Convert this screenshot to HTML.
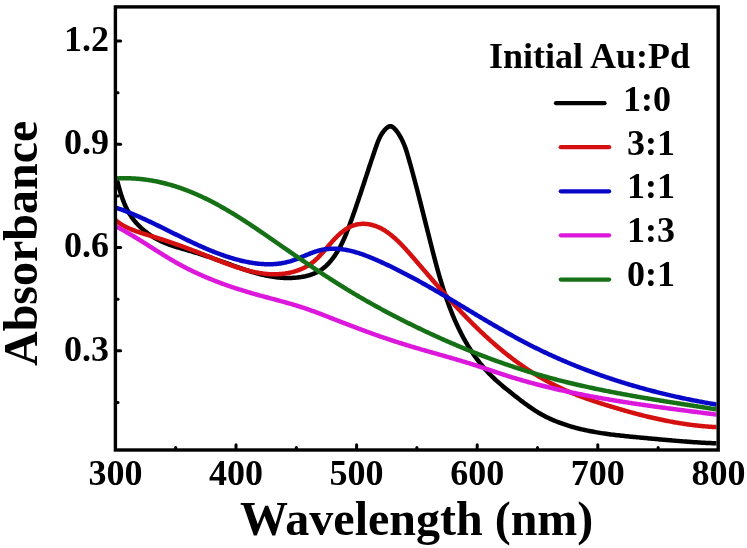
<!DOCTYPE html>
<html><head><meta charset="utf-8"><style>
html,body{margin:0;padding:0;background:#fff;}
body{width:747px;height:548px;overflow:hidden;}
svg{display:block;filter:blur(0.35px);}
text{font-family:"Liberation Serif",serif;font-weight:bold;fill:#000;}
.tk{font-size:36px;}
.lg{font-size:36px;}
.ttl{font-size:36px;}
.ax{font-size:48px;}
</style></head><body>
<svg width="747" height="548" viewBox="0 0 747 548">
<rect width="747" height="548" fill="#fff"/>
<defs><clipPath id="pc"><rect x="117" y="8.6" width="599.5" height="439.7"/></clipPath></defs>
<g fill="none" stroke-width="4.5" stroke-linejoin="round" stroke-linecap="round" clip-path="url(#pc)">
<path d="M116.62,178.49 L117.00,179.97 L117.38,181.45 L117.76,182.93 L118.16,184.42 L118.56,185.91 L118.97,187.40 L119.39,188.89 L119.82,190.38 L120.26,191.87 L120.72,193.35 L121.19,194.84 L121.68,196.32 L122.18,197.79 L122.70,199.25 L123.25,200.71 L123.81,202.15 L124.39,203.59 L125.00,205.01 L125.63,206.43 L126.29,207.82 L126.98,209.21 L127.69,210.57 L128.43,211.92 L129.20,213.26 L130.00,214.57 L130.84,215.86 L131.70,217.13 L132.60,218.38 L133.53,219.61 L134.49,220.82 L135.48,222.01 L136.49,223.17 L137.53,224.31 L138.60,225.43 L139.70,226.52 L140.82,227.59 L141.96,228.64 L143.13,229.66 L144.32,230.66 L145.52,231.64 L146.75,232.59 L148.00,233.52 L149.27,234.42 L150.56,235.29 L151.86,236.14 L153.18,236.97 L154.51,237.76 L155.86,238.53 L157.22,239.28 L158.60,239.99 L159.99,240.68 L161.38,241.35 L162.79,241.98 L164.21,242.59 L165.64,243.18 L167.07,243.75 L168.52,244.30 L169.97,244.83 L171.42,245.34 L172.89,245.83 L174.36,246.32 L175.83,246.79 L177.31,247.25 L178.79,247.70 L180.27,248.14 L181.76,248.58 L183.25,249.01 L184.73,249.44 L186.22,249.86 L187.71,250.29 L189.20,250.72 L190.69,251.15 L192.17,251.58 L193.65,252.03 L195.13,252.47 L196.60,252.93 L198.08,253.39 L199.55,253.85 L201.02,254.32 L202.48,254.80 L203.94,255.28 L205.41,255.76 L206.87,256.25 L208.33,256.74 L209.78,257.24 L211.24,257.74 L212.70,258.25 L214.15,258.76 L215.60,259.27 L217.06,259.78 L218.51,260.30 L219.97,260.81 L221.42,261.33 L222.87,261.85 L224.33,262.38 L225.78,262.90 L227.24,263.43 L228.70,263.95 L230.15,264.48 L231.61,265.00 L233.07,265.53 L234.54,266.05 L236.00,266.58 L237.47,267.10 L238.93,267.61 L240.40,268.13 L241.87,268.64 L243.35,269.14 L244.82,269.63 L246.30,270.12 L247.77,270.61 L249.25,271.08 L250.74,271.54 L252.22,272.00 L253.71,272.44 L255.19,272.87 L256.68,273.29 L258.18,273.70 L259.67,274.09 L261.17,274.47 L262.67,274.83 L264.17,275.17 L265.67,275.50 L267.18,275.81 L268.69,276.11 L270.20,276.38 L271.71,276.63 L273.23,276.87 L274.75,277.08 L276.27,277.27 L277.79,277.44 L279.32,277.59 L280.85,277.71 L282.39,277.82 L283.93,277.89 L285.47,277.95 L287.02,277.98 L288.57,277.98 L290.12,277.96 L291.68,277.92 L293.24,277.85 L294.81,277.75 L296.38,277.62 L297.94,277.46 L299.51,277.27 L301.06,277.05 L302.61,276.79 L304.15,276.50 L305.67,276.18 L307.18,275.81 L308.68,275.41 L310.16,274.97 L311.61,274.49 L313.04,273.96 L314.45,273.39 L315.83,272.78 L317.19,272.12 L318.51,271.41 L319.81,270.65 L321.08,269.84 L322.32,268.98 L323.53,268.06 L324.72,267.09 L325.87,266.07 L327.00,264.99 L328.10,263.87 L329.16,262.72 L330.20,261.54 L331.20,260.34 L332.18,259.12 L333.13,257.89 L334.05,256.64 L334.94,255.37 L335.81,254.09 L336.65,252.79 L337.47,251.48 L338.26,250.15 L339.03,248.82 L339.78,247.47 L340.52,246.11 L341.23,244.73 L341.92,243.35 L342.60,241.96 L343.25,240.56 L343.90,239.15 L344.53,237.73 L345.14,236.30 L345.74,234.87 L346.33,233.44 L346.91,232.00 L347.48,230.55 L348.04,229.10 L348.59,227.65 L349.14,226.20 L349.67,224.74 L350.21,223.28 L350.74,221.82 L351.26,220.37 L351.78,218.91 L352.30,217.45 L352.82,216.00 L353.33,214.54 L353.84,213.08 L354.35,211.63 L354.85,210.17 L355.36,208.72 L355.86,207.26 L356.36,205.81 L356.86,204.35 L357.35,202.90 L357.84,201.44 L358.34,199.98 L358.83,198.53 L359.32,197.07 L359.80,195.61 L360.29,194.16 L360.78,192.70 L361.26,191.24 L361.75,189.78 L362.23,188.32 L362.71,186.86 L363.20,185.40 L363.68,183.94 L364.16,182.48 L364.64,181.01 L365.13,179.55 L365.61,178.08 L366.09,176.61 L366.57,175.15 L367.06,173.68 L367.54,172.21 L368.03,170.73 L368.51,169.26 L369.00,167.78 L369.49,166.31 L369.98,164.83 L370.47,163.35 L370.96,161.87 L371.45,160.39 L371.95,158.90 L372.44,157.42 L372.94,155.93 L373.44,154.44 L373.94,152.95 L374.45,151.45 L374.96,149.95 L375.47,148.46 L375.98,146.96 L376.50,145.46 L377.04,143.97 L377.60,142.49 L378.18,141.03 L378.79,139.59 L379.44,138.17 L380.13,136.78 L380.86,135.42 L381.64,134.10 L382.48,132.81 L383.38,131.58 L384.35,130.38 L385.38,129.25 L386.49,128.17 L387.67,127.22 L388.87,126.53 L390.08,126.21 L391.28,126.34 L392.45,126.86 L393.58,127.70 L394.68,128.76 L395.73,129.97 L396.73,131.24 L397.68,132.54 L398.58,133.85 L399.43,135.19 L400.24,136.54 L401.00,137.91 L401.72,139.30 L402.41,140.70 L403.06,142.11 L403.67,143.54 L404.26,144.98 L404.82,146.43 L405.36,147.89 L405.87,149.36 L406.36,150.83 L406.84,152.31 L407.30,153.80 L407.74,155.29 L408.18,156.78 L408.61,158.28 L409.04,159.78 L409.46,161.27 L409.88,162.77 L410.30,164.26 L410.72,165.76 L411.13,167.26 L411.54,168.75 L411.95,170.25 L412.36,171.74 L412.77,173.24 L413.17,174.73 L413.57,176.23 L413.97,177.73 L414.37,179.22 L414.77,180.72 L415.17,182.21 L415.56,183.71 L415.95,185.20 L416.34,186.70 L416.73,188.19 L417.12,189.69 L417.51,191.18 L417.90,192.68 L418.28,194.17 L418.67,195.67 L419.05,197.16 L419.43,198.66 L419.81,200.15 L420.19,201.65 L420.57,203.14 L420.95,204.64 L421.33,206.13 L421.71,207.63 L422.08,209.12 L422.46,210.62 L422.84,212.12 L423.21,213.61 L423.59,215.11 L423.96,216.60 L424.34,218.10 L424.71,219.60 L425.09,221.09 L425.46,222.59 L425.84,224.09 L426.21,225.58 L426.59,227.08 L426.96,228.58 L427.34,230.08 L427.71,231.57 L428.09,233.07 L428.47,234.57 L428.84,236.07 L429.22,237.57 L429.60,239.06 L429.98,240.56 L430.36,242.06 L430.74,243.56 L431.12,245.06 L431.50,246.56 L431.88,248.06 L432.27,249.56 L432.65,251.06 L433.04,252.56 L433.43,254.07 L433.82,255.57 L434.21,257.07 L434.60,258.57 L435.00,260.07 L435.39,261.57 L435.79,263.07 L436.20,264.56 L436.60,266.06 L437.01,267.56 L437.42,269.06 L437.83,270.55 L438.25,272.05 L438.67,273.54 L439.10,275.03 L439.53,276.52 L439.96,278.01 L440.40,279.50 L440.84,280.99 L441.28,282.47 L441.73,283.96 L442.19,285.44 L442.64,286.92 L443.11,288.40 L443.58,289.87 L444.05,291.35 L444.53,292.82 L445.02,294.29 L445.51,295.76 L446.01,297.22 L446.51,298.69 L447.02,300.15 L447.54,301.61 L448.06,303.06 L448.59,304.51 L449.13,305.96 L449.67,307.41 L450.23,308.85 L450.78,310.29 L451.35,311.73 L451.92,313.16 L452.50,314.59 L453.09,316.02 L453.69,317.44 L454.30,318.86 L454.91,320.28 L455.53,321.69 L456.17,323.10 L456.81,324.51 L457.46,325.91 L458.11,327.30 L458.78,328.70 L459.46,330.08 L460.15,331.47 L460.84,332.85 L461.55,334.22 L462.27,335.59 L462.99,336.96 L463.73,338.32 L464.48,339.67 L465.24,341.02 L466.01,342.37 L466.79,343.70 L467.58,345.03 L468.38,346.36 L469.19,347.68 L470.01,348.99 L470.85,350.29 L471.69,351.59 L472.55,352.87 L473.42,354.15 L474.30,355.43 L475.19,356.69 L476.09,357.94 L477.01,359.19 L477.93,360.42 L478.87,361.65 L479.82,362.87 L480.79,364.07 L481.76,365.27 L482.75,366.45 L483.75,367.63 L484.76,368.79 L485.78,369.95 L486.82,371.09 L487.87,372.22 L488.93,373.34 L490.01,374.44 L491.10,375.53 L492.20,376.62 L493.31,377.69 L494.44,378.74 L495.57,379.79 L496.72,380.83 L497.87,381.86 L499.03,382.89 L500.20,383.90 L501.38,384.91 L502.57,385.91 L503.76,386.90 L504.96,387.89 L506.16,388.87 L507.37,389.85 L508.58,390.82 L509.79,391.79 L511.01,392.76 L512.23,393.72 L513.45,394.69 L514.68,395.65 L515.90,396.61 L517.12,397.57 L518.35,398.52 L519.58,399.47 L520.81,400.42 L522.04,401.36 L523.28,402.29 L524.52,403.22 L525.77,404.14 L527.02,405.05 L528.28,405.95 L529.54,406.84 L530.81,407.72 L532.09,408.59 L533.37,409.45 L534.67,410.29 L535.97,411.12 L537.28,411.93 L538.59,412.73 L539.92,413.50 L541.26,414.27 L542.61,415.01 L543.97,415.74 L545.33,416.45 L546.71,417.14 L548.10,417.81 L549.49,418.47 L550.89,419.12 L552.30,419.74 L553.72,420.35 L555.15,420.95 L556.58,421.53 L558.02,422.10 L559.46,422.65 L560.92,423.18 L562.37,423.71 L563.84,424.22 L565.31,424.71 L566.78,425.19 L568.26,425.66 L569.74,426.11 L571.23,426.56 L572.72,426.99 L574.21,427.40 L575.71,427.81 L577.21,428.20 L578.71,428.59 L580.21,428.96 L581.72,429.32 L583.23,429.67 L584.74,430.00 L586.25,430.33 L587.76,430.65 L589.28,430.96 L590.80,431.26 L592.31,431.55 L593.83,431.83 L595.36,432.10 L596.88,432.37 L598.40,432.62 L599.93,432.87 L601.46,433.11 L602.98,433.35 L604.51,433.58 L606.04,433.80 L607.57,434.01 L609.11,434.22 L610.64,434.42 L612.17,434.62 L613.71,434.81 L615.24,435.00 L616.78,435.18 L618.32,435.35 L619.86,435.53 L621.39,435.70 L622.93,435.86 L624.47,436.03 L626.01,436.18 L627.55,436.34 L629.09,436.50 L630.63,436.65 L632.17,436.80 L633.72,436.94 L635.26,437.09 L636.80,437.24 L638.34,437.38 L639.88,437.53 L641.42,437.67 L642.96,437.81 L644.50,437.96 L646.05,438.10 L647.59,438.25 L649.13,438.39 L650.67,438.53 L652.21,438.68 L653.75,438.82 L655.29,438.97 L656.83,439.11 L658.37,439.25 L659.91,439.39 L661.45,439.53 L662.99,439.67 L664.53,439.81 L666.07,439.95 L667.61,440.08 L669.15,440.22 L670.69,440.35 L672.23,440.49 L673.77,440.62 L675.31,440.75 L676.85,440.88 L678.39,441.00 L679.93,441.13 L681.48,441.25 L683.02,441.37 L684.56,441.49 L686.10,441.61 L687.64,441.72 L689.19,441.83 L690.73,441.94 L692.27,442.05 L693.81,442.15 L695.36,442.25 L696.90,442.35 L698.45,442.45 L699.99,442.54 L701.54,442.63 L703.08,442.72 L704.63,442.80 L706.17,442.88 L707.72,442.96 L709.27,443.03 L710.82,443.10 L712.36,443.17 L713.91,443.23 L715.46,443.29 L717.01,443.34" stroke="#000000"/>
<path d="M115.95,220.57 L116.86,221.28 L117.77,221.96 L118.71,222.62 L119.66,223.26 L120.62,223.89 L121.59,224.49 L122.58,225.07 L123.58,225.64 L124.59,226.19 L125.62,226.72 L126.65,227.24 L127.70,227.74 L128.75,228.23 L129.82,228.70 L130.89,229.16 L131.97,229.61 L133.06,230.05 L134.15,230.47 L135.25,230.89 L136.36,231.29 L137.47,231.69 L138.59,232.08 L139.71,232.46 L140.83,232.83 L141.96,233.20 L143.09,233.56 L144.22,233.92 L145.35,234.27 L146.49,234.62 L147.62,234.97 L148.76,235.31 L149.89,235.66 L151.02,236.00 L152.15,236.34 L153.28,236.69 L154.40,237.03 L155.52,237.38 L156.64,237.73 L157.75,238.08 L158.87,238.43 L159.98,238.78 L161.08,239.14 L162.18,239.49 L163.29,239.85 L164.38,240.21 L165.48,240.57 L166.57,240.94 L167.67,241.30 L168.76,241.67 L169.84,242.04 L170.93,242.41 L172.01,242.78 L173.10,243.16 L174.18,243.54 L175.26,243.91 L176.34,244.30 L177.41,244.68 L178.49,245.06 L179.57,245.45 L180.64,245.84 L181.72,246.22 L182.79,246.62 L183.86,247.01 L184.94,247.41 L186.01,247.80 L187.08,248.20 L188.16,248.60 L189.23,249.01 L190.30,249.41 L191.37,249.82 L192.45,250.23 L193.52,250.64 L194.60,251.05 L195.67,251.46 L196.75,251.88 L197.83,252.30 L198.91,252.72 L199.99,253.14 L201.07,253.57 L202.15,253.99 L203.23,254.42 L204.32,254.85 L205.41,255.29 L206.50,255.72 L207.59,256.16 L208.68,256.60 L209.78,257.03 L210.87,257.47 L211.97,257.91 L213.07,258.35 L214.17,258.79 L215.27,259.23 L216.38,259.67 L217.48,260.11 L218.59,260.55 L219.70,260.98 L220.81,261.42 L221.92,261.85 L223.04,262.28 L224.15,262.71 L225.26,263.13 L226.38,263.55 L227.50,263.97 L228.62,264.38 L229.74,264.79 L230.86,265.19 L231.98,265.59 L233.11,265.98 L234.23,266.37 L235.35,266.75 L236.48,267.13 L237.61,267.50 L238.73,267.87 L239.86,268.22 L240.99,268.57 L242.12,268.92 L243.25,269.25 L244.38,269.58 L245.52,269.90 L246.65,270.21 L247.78,270.51 L248.92,270.80 L250.05,271.08 L251.19,271.35 L252.32,271.62 L253.46,271.87 L254.59,272.11 L255.73,272.34 L256.86,272.56 L258.00,272.77 L259.14,272.96 L260.27,273.15 L261.41,273.32 L262.55,273.48 L263.69,273.62 L264.82,273.75 L265.96,273.87 L267.10,273.98 L268.23,274.07 L269.37,274.14 L270.51,274.20 L271.65,274.25 L272.78,274.28 L273.92,274.30 L275.05,274.29 L276.19,274.28 L277.33,274.24 L278.46,274.19 L279.60,274.12 L280.73,274.04 L281.86,273.94 L283.00,273.81 L284.13,273.67 L285.26,273.52 L286.39,273.34 L287.52,273.14 L288.65,272.93 L289.78,272.69 L290.91,272.43 L292.04,272.16 L293.16,271.86 L294.29,271.54 L295.41,271.21 L296.53,270.85 L297.64,270.47 L298.74,270.06 L299.84,269.64 L300.92,269.20 L302.00,268.73 L303.07,268.24 L304.12,267.73 L305.17,267.20 L306.19,266.64 L307.21,266.07 L308.20,265.47 L309.18,264.85 L310.14,264.20 L311.09,263.54 L312.01,262.85 L312.92,262.14 L313.81,261.42 L314.69,260.67 L315.55,259.91 L316.40,259.13 L317.24,258.34 L318.06,257.53 L318.88,256.71 L319.68,255.88 L320.48,255.04 L321.27,254.18 L322.05,253.32 L322.83,252.45 L323.60,251.58 L324.36,250.69 L325.13,249.80 L325.89,248.91 L326.65,248.01 L327.42,247.12 L328.18,246.22 L328.95,245.32 L329.72,244.42 L330.50,243.52 L331.29,242.62 L332.08,241.73 L332.88,240.84 L333.69,239.96 L334.51,239.08 L335.34,238.21 L336.19,237.35 L337.05,236.51 L337.92,235.67 L338.80,234.85 L339.69,234.04 L340.60,233.25 L341.51,232.49 L342.44,231.74 L343.38,231.02 L344.34,230.32 L345.30,229.65 L346.28,229.00 L347.26,228.39 L348.26,227.81 L349.27,227.26 L350.30,226.75 L351.33,226.28 L352.38,225.85 L353.44,225.45 L354.51,225.10 L355.59,224.80 L356.68,224.54 L357.78,224.32 L358.89,224.14 L360.00,224.01 L361.12,223.91 L362.24,223.86 L363.36,223.84 L364.48,223.86 L365.60,223.92 L366.71,224.01 L367.82,224.14 L368.92,224.31 L370.02,224.50 L371.10,224.73 L372.18,224.99 L373.24,225.28 L374.30,225.60 L375.34,225.95 L376.38,226.33 L377.41,226.73 L378.43,227.17 L379.44,227.63 L380.44,228.11 L381.43,228.62 L382.42,229.15 L383.40,229.71 L384.37,230.29 L385.33,230.89 L386.28,231.51 L387.23,232.16 L388.17,232.82 L389.10,233.50 L390.03,234.20 L390.95,234.92 L391.86,235.65 L392.76,236.40 L393.66,237.17 L394.56,237.95 L395.44,238.75 L396.32,239.55 L397.20,240.37 L398.07,241.20 L398.93,242.05 L399.79,242.90 L400.65,243.76 L401.49,244.63 L402.34,245.51 L403.18,246.40 L404.01,247.29 L404.84,248.19 L405.67,249.10 L406.49,250.01 L407.31,250.92 L408.13,251.83 L408.94,252.75 L409.75,253.67 L410.55,254.59 L411.35,255.51 L412.15,256.43 L412.95,257.35 L413.74,258.26 L414.53,259.18 L415.32,260.09 L416.10,261.00 L416.89,261.90 L417.67,262.81 L418.45,263.71 L419.22,264.62 L420.00,265.52 L420.77,266.41 L421.54,267.31 L422.31,268.20 L423.08,269.10 L423.85,269.99 L424.61,270.88 L425.38,271.76 L426.14,272.65 L426.90,273.53 L427.66,274.41 L428.42,275.30 L429.18,276.17 L429.94,277.05 L430.69,277.93 L431.45,278.80 L432.20,279.68 L432.96,280.55 L433.71,281.42 L434.47,282.29 L435.22,283.16 L435.97,284.02 L436.73,284.89 L437.48,285.75 L438.24,286.62 L438.99,287.48 L439.74,288.34 L440.50,289.20 L441.25,290.06 L442.01,290.91 L442.76,291.77 L443.52,292.62 L444.28,293.48 L445.04,294.33 L445.80,295.18 L446.56,296.04 L447.32,296.89 L448.08,297.74 L448.84,298.59 L449.61,299.43 L450.38,300.28 L451.14,301.13 L451.91,301.97 L452.68,302.82 L453.46,303.66 L454.23,304.51 L455.01,305.35 L455.79,306.20 L456.57,307.04 L457.35,307.88 L458.14,308.72 L458.93,309.56 L459.72,310.40 L460.51,311.24 L461.31,312.08 L462.10,312.92 L462.90,313.76 L463.70,314.59 L464.51,315.43 L465.31,316.26 L466.12,317.10 L466.93,317.93 L467.74,318.76 L468.56,319.59 L469.37,320.42 L470.19,321.25 L471.01,322.07 L471.84,322.90 L472.66,323.72 L473.49,324.54 L474.32,325.36 L475.16,326.18 L475.99,327.00 L476.83,327.81 L477.67,328.63 L478.51,329.44 L479.35,330.25 L480.20,331.06 L481.05,331.86 L481.90,332.67 L482.75,333.47 L483.61,334.27 L484.46,335.07 L485.32,335.86 L486.19,336.66 L487.05,337.45 L487.92,338.24 L488.79,339.03 L489.66,339.81 L490.53,340.59 L491.41,341.37 L492.28,342.15 L493.17,342.92 L494.05,343.69 L494.93,344.46 L495.82,345.23 L496.71,345.99 L497.60,346.75 L498.50,347.51 L499.39,348.27 L500.29,349.02 L501.19,349.77 L502.10,350.51 L503.00,351.26 L503.91,351.99 L504.82,352.73 L505.73,353.46 L506.65,354.19 L507.57,354.92 L508.49,355.64 L509.41,356.36 L510.33,357.08 L511.26,357.79 L512.19,358.50 L513.12,359.20 L514.05,359.90 L514.99,360.60 L515.93,361.29 L516.87,361.98 L517.81,362.67 L518.76,363.35 L519.71,364.03 L520.66,364.70 L521.61,365.37 L522.57,366.04 L523.52,366.70 L524.48,367.36 L525.45,368.01 L526.41,368.66 L527.38,369.30 L528.35,369.94 L529.32,370.58 L530.29,371.21 L531.27,371.84 L532.25,372.46 L533.23,373.08 L534.21,373.69 L535.20,374.30 L536.19,374.91 L537.18,375.51 L538.17,376.10 L539.17,376.69 L540.17,377.28 L541.17,377.86 L542.17,378.44 L543.18,379.01 L544.19,379.58 L545.20,380.15 L546.21,380.71 L547.23,381.26 L548.25,381.81 L549.27,382.36 L550.29,382.90 L551.32,383.44 L552.34,383.97 L553.37,384.50 L554.41,385.02 L555.44,385.53 L556.48,386.05 L557.52,386.56 L558.57,387.06 L559.61,387.56 L560.66,388.05 L561.71,388.54 L562.76,389.02 L563.82,389.50 L564.88,389.98 L565.94,390.44 L567.00,390.91 L568.07,391.37 L569.14,391.82 L570.21,392.27 L571.28,392.72 L572.36,393.16 L573.43,393.60 L574.51,394.03 L575.60,394.46 L576.68,394.89 L577.76,395.31 L578.85,395.72 L579.94,396.14 L581.03,396.55 L582.12,396.95 L583.22,397.35 L584.31,397.75 L585.41,398.15 L586.51,398.54 L587.61,398.93 L588.71,399.32 L589.81,399.70 L590.92,400.08 L592.02,400.46 L593.13,400.83 L594.24,401.20 L595.34,401.57 L596.45,401.94 L597.56,402.30 L598.68,402.66 L599.79,403.02 L600.90,403.38 L602.01,403.73 L603.13,404.09 L604.24,404.44 L605.36,404.79 L606.47,405.13 L607.59,405.48 L608.71,405.82 L609.82,406.17 L610.94,406.51 L612.06,406.85 L613.18,407.18 L614.29,407.52 L615.41,407.85 L616.53,408.19 L617.65,408.52 L618.77,408.85 L619.89,409.18 L621.01,409.50 L622.13,409.83 L623.25,410.15 L624.37,410.47 L625.49,410.79 L626.61,411.11 L627.73,411.42 L628.86,411.73 L629.98,412.05 L631.10,412.35 L632.22,412.66 L633.35,412.97 L634.47,413.27 L635.60,413.57 L636.72,413.87 L637.85,414.16 L638.97,414.46 L640.10,414.75 L641.23,415.03 L642.36,415.32 L643.48,415.61 L644.61,415.89 L645.74,416.17 L646.87,416.44 L648.00,416.72 L649.13,416.99 L650.26,417.26 L651.39,417.52 L652.53,417.78 L653.66,418.04 L654.79,418.30 L655.93,418.56 L657.06,418.81 L658.19,419.06 L659.33,419.30 L660.47,419.55 L661.60,419.79 L662.74,420.02 L663.88,420.26 L665.02,420.49 L666.16,420.72 L667.30,420.94 L668.44,421.16 L669.58,421.38 L670.72,421.60 L671.87,421.81 L673.01,422.02 L674.15,422.22 L675.30,422.43 L676.44,422.62 L677.59,422.82 L678.74,423.01 L679.89,423.20 L681.03,423.38 L682.18,423.56 L683.33,423.74 L684.48,423.91 L685.64,424.08 L686.79,424.25 L687.94,424.41 L689.10,424.57 L690.25,424.73 L691.41,424.88 L692.56,425.02 L693.72,425.17 L694.88,425.31 L696.04,425.44 L697.20,425.57 L698.36,425.70 L699.52,425.82 L700.69,425.94 L701.85,426.05 L703.01,426.16 L704.18,426.27 L705.35,426.37 L706.51,426.47 L707.68,426.56 L708.85,426.65 L710.02,426.74 L711.19,426.82 L712.37,426.89 L713.54,426.96 L714.71,427.03 L715.89,427.09 L717.06,427.15" stroke="#d41010"/>
<path d="M116.05,207.73 L117.05,208.07 L118.05,208.41 L119.05,208.76 L120.05,209.12 L121.05,209.47 L122.05,209.84 L123.04,210.21 L124.04,210.58 L125.03,210.96 L126.03,211.34 L127.02,211.73 L128.01,212.12 L129.00,212.51 L130.00,212.91 L130.99,213.32 L131.98,213.73 L132.97,214.14 L133.96,214.55 L134.94,214.97 L135.93,215.39 L136.92,215.82 L137.91,216.25 L138.89,216.68 L139.88,217.12 L140.86,217.56 L141.85,218.00 L142.83,218.45 L143.82,218.89 L144.80,219.34 L145.78,219.80 L146.77,220.25 L147.75,220.71 L148.73,221.17 L149.71,221.63 L150.70,222.10 L151.68,222.57 L152.66,223.03 L153.64,223.51 L154.62,223.98 L155.60,224.45 L156.58,224.93 L157.56,225.40 L158.54,225.88 L159.52,226.36 L160.50,226.84 L161.48,227.32 L162.47,227.81 L163.45,228.29 L164.43,228.78 L165.41,229.26 L166.39,229.75 L167.37,230.23 L168.35,230.72 L169.33,231.21 L170.31,231.69 L171.29,232.18 L172.27,232.67 L173.25,233.15 L174.23,233.64 L175.21,234.13 L176.20,234.61 L177.18,235.10 L178.16,235.58 L179.14,236.07 L180.12,236.55 L181.11,237.03 L182.09,237.52 L183.08,238.00 L184.06,238.48 L185.04,238.95 L186.03,239.43 L187.01,239.91 L188.00,240.38 L188.99,240.85 L189.97,241.32 L190.96,241.79 L191.95,242.26 L192.94,242.72 L193.93,243.18 L194.92,243.64 L195.91,244.10 L196.90,244.56 L197.89,245.01 L198.88,245.46 L199.87,245.91 L200.87,246.35 L201.86,246.79 L202.86,247.23 L203.85,247.67 L204.85,248.10 L205.85,248.53 L206.84,248.96 L207.84,249.38 L208.84,249.80 L209.84,250.21 L210.84,250.62 L211.85,251.03 L212.85,251.43 L213.85,251.83 L214.86,252.23 L215.87,252.62 L216.87,253.00 L217.88,253.38 L218.89,253.76 L219.90,254.13 L220.91,254.50 L221.92,254.86 L222.94,255.22 L223.95,255.57 L224.97,255.92 L225.99,256.26 L227.00,256.60 L228.02,256.93 L229.04,257.26 L230.07,257.58 L231.09,257.89 L232.11,258.20 L233.14,258.50 L234.17,258.80 L235.19,259.09 L236.22,259.38 L237.25,259.65 L238.29,259.93 L239.32,260.19 L240.36,260.45 L241.39,260.70 L242.43,260.95 L243.47,261.18 L244.51,261.42 L245.55,261.64 L246.60,261.86 L247.64,262.07 L248.69,262.27 L249.74,262.46 L250.79,262.64 L251.84,262.82 L252.89,262.99 L253.94,263.14 L254.99,263.29 L256.05,263.43 L257.10,263.56 L258.16,263.68 L259.22,263.79 L260.28,263.88 L261.33,263.97 L262.39,264.05 L263.45,264.11 L264.51,264.16 L265.57,264.21 L266.63,264.23 L267.70,264.25 L268.76,264.26 L269.82,264.25 L270.88,264.23 L271.94,264.19 L273.01,264.14 L274.07,264.08 L275.13,264.01 L276.19,263.92 L277.26,263.81 L278.32,263.69 L279.38,263.56 L280.44,263.41 L281.50,263.25 L282.57,263.07 L283.63,262.87 L284.69,262.66 L285.75,262.43 L286.81,262.18 L287.86,261.92 L288.92,261.64 L289.98,261.35 L291.04,261.03 L292.09,260.70 L293.15,260.35 L294.20,259.99 L295.25,259.61 L296.30,259.21 L297.36,258.81 L298.41,258.39 L299.46,257.97 L300.51,257.54 L301.56,257.10 L302.60,256.67 L303.65,256.23 L304.70,255.78 L305.75,255.34 L306.79,254.91 L307.84,254.48 L308.89,254.05 L309.93,253.63 L310.98,253.22 L312.02,252.82 L313.07,252.43 L314.12,252.06 L315.16,251.70 L316.21,251.36 L317.25,251.04 L318.30,250.74 L319.34,250.46 L320.39,250.20 L321.44,249.97 L322.48,249.75 L323.53,249.56 L324.58,249.39 L325.62,249.24 L326.67,249.11 L327.72,249.00 L328.76,248.90 L329.81,248.83 L330.86,248.78 L331.90,248.74 L332.95,248.73 L333.99,248.73 L335.04,248.74 L336.08,248.78 L337.13,248.83 L338.17,248.90 L339.21,248.98 L340.26,249.09 L341.30,249.20 L342.34,249.33 L343.39,249.48 L344.43,249.64 L345.47,249.81 L346.51,250.00 L347.55,250.20 L348.59,250.41 L349.62,250.64 L350.66,250.88 L351.70,251.13 L352.73,251.40 L353.77,251.67 L354.80,251.96 L355.84,252.25 L356.87,252.56 L357.90,252.87 L358.93,253.20 L359.96,253.54 L360.99,253.88 L362.02,254.23 L363.04,254.59 L364.07,254.96 L365.09,255.34 L366.12,255.73 L367.14,256.12 L368.16,256.51 L369.18,256.92 L370.20,257.33 L371.21,257.74 L372.23,258.16 L373.24,258.59 L374.25,259.02 L375.27,259.46 L376.27,259.89 L377.28,260.34 L378.29,260.78 L379.29,261.23 L380.30,261.68 L381.30,262.13 L382.30,262.59 L383.30,263.05 L384.29,263.51 L385.29,263.97 L386.28,264.43 L387.28,264.90 L388.27,265.37 L389.26,265.84 L390.24,266.31 L391.23,266.79 L392.22,267.26 L393.20,267.74 L394.18,268.22 L395.16,268.71 L396.14,269.19 L397.12,269.68 L398.10,270.17 L399.07,270.66 L400.05,271.15 L401.02,271.65 L401.99,272.14 L402.96,272.64 L403.93,273.14 L404.90,273.64 L405.87,274.15 L406.83,274.65 L407.80,275.16 L408.76,275.67 L409.73,276.18 L410.69,276.69 L411.65,277.20 L412.61,277.71 L413.56,278.23 L414.52,278.75 L415.48,279.27 L416.43,279.79 L417.39,280.31 L418.34,280.83 L419.29,281.35 L420.24,281.88 L421.19,282.41 L422.14,282.93 L423.09,283.46 L424.04,283.99 L424.99,284.53 L425.93,285.06 L426.88,285.59 L427.82,286.13 L428.77,286.66 L429.71,287.20 L430.65,287.74 L431.59,288.28 L432.53,288.82 L433.47,289.36 L434.41,289.90 L435.35,290.44 L436.29,290.98 L437.23,291.53 L438.17,292.07 L439.10,292.62 L440.04,293.17 L440.97,293.71 L441.91,294.26 L442.84,294.81 L443.78,295.36 L444.71,295.91 L445.64,296.46 L446.57,297.01 L447.51,297.56 L448.44,298.11 L449.37,298.66 L450.30,299.22 L451.23,299.77 L452.16,300.32 L453.09,300.88 L454.02,301.43 L454.95,301.99 L455.88,302.54 L456.80,303.10 L457.73,303.65 L458.66,304.21 L459.59,304.76 L460.52,305.32 L461.44,305.87 L462.37,306.43 L463.30,306.99 L464.22,307.54 L465.15,308.10 L466.08,308.65 L467.00,309.21 L467.93,309.77 L468.86,310.32 L469.78,310.88 L470.71,311.43 L471.64,311.99 L472.56,312.54 L473.49,313.10 L474.42,313.65 L475.34,314.21 L476.27,314.76 L477.20,315.32 L478.12,315.87 L479.05,316.42 L479.98,316.97 L480.91,317.53 L481.83,318.08 L482.76,318.63 L483.69,319.18 L484.62,319.73 L485.55,320.28 L486.48,320.83 L487.41,321.38 L488.34,321.93 L489.27,322.47 L490.20,323.02 L491.13,323.56 L492.06,324.11 L492.99,324.65 L493.92,325.20 L494.85,325.74 L495.79,326.28 L496.72,326.82 L497.65,327.36 L498.59,327.90 L499.52,328.44 L500.46,328.97 L501.39,329.51 L502.33,330.04 L503.27,330.58 L504.21,331.11 L505.14,331.64 L506.08,332.17 L507.02,332.70 L507.96,333.23 L508.90,333.75 L509.84,334.28 L510.79,334.80 L511.73,335.33 L512.67,335.85 L513.62,336.37 L514.56,336.89 L515.51,337.40 L516.46,337.92 L517.41,338.43 L518.35,338.95 L519.30,339.46 L520.25,339.97 L521.21,340.47 L522.16,340.98 L523.11,341.48 L524.07,341.99 L525.02,342.49 L525.98,342.99 L526.93,343.49 L527.89,343.98 L528.85,344.48 L529.81,344.97 L530.77,345.46 L531.74,345.95 L532.70,346.44 L533.67,346.92 L534.63,347.40 L535.60,347.88 L536.57,348.36 L537.54,348.84 L538.51,349.32 L539.48,349.79 L540.45,350.26 L541.42,350.73 L542.40,351.20 L543.37,351.66 L544.35,352.13 L545.33,352.59 L546.31,353.05 L547.29,353.51 L548.27,353.96 L549.25,354.42 L550.23,354.87 L551.22,355.32 L552.20,355.77 L553.19,356.22 L554.17,356.66 L555.16,357.11 L556.15,357.55 L557.14,357.99 L558.13,358.43 L559.12,358.86 L560.11,359.30 L561.11,359.73 L562.10,360.16 L563.10,360.59 L564.09,361.01 L565.09,361.44 L566.09,361.86 L567.09,362.28 L568.08,362.70 L569.09,363.12 L570.09,363.53 L571.09,363.95 L572.09,364.36 L573.10,364.77 L574.10,365.18 L575.11,365.58 L576.11,365.99 L577.12,366.39 L578.13,366.79 L579.14,367.19 L580.15,367.59 L581.16,367.98 L582.17,368.38 L583.18,368.77 L584.19,369.16 L585.21,369.55 L586.22,369.93 L587.24,370.32 L588.25,370.70 L589.27,371.08 L590.29,371.46 L591.31,371.84 L592.33,372.21 L593.34,372.59 L594.37,372.96 L595.39,373.33 L596.41,373.70 L597.43,374.07 L598.45,374.43 L599.48,374.79 L600.50,375.15 L601.53,375.51 L602.55,375.87 L603.58,376.23 L604.61,376.58 L605.63,376.93 L606.66,377.28 L607.69,377.63 L608.72,377.98 L609.75,378.32 L610.78,378.67 L611.81,379.01 L612.85,379.35 L613.88,379.69 L614.91,380.02 L615.95,380.36 L616.98,380.69 L618.02,381.02 L619.05,381.35 L620.09,381.68 L621.12,382.01 L622.16,382.33 L623.20,382.65 L624.24,382.97 L625.28,383.29 L626.32,383.61 L627.36,383.92 L628.40,384.24 L629.44,384.55 L630.48,384.86 L631.52,385.17 L632.56,385.48 L633.61,385.78 L634.65,386.08 L635.69,386.39 L636.74,386.69 L637.78,386.98 L638.83,387.28 L639.87,387.58 L640.92,387.87 L641.96,388.16 L643.01,388.45 L644.06,388.74 L645.11,389.02 L646.15,389.31 L647.20,389.59 L648.25,389.87 L649.30,390.15 L650.35,390.43 L651.40,390.71 L652.45,390.98 L653.50,391.25 L654.55,391.52 L655.60,391.79 L656.65,392.06 L657.70,392.33 L658.76,392.59 L659.81,392.85 L660.86,393.11 L661.91,393.37 L662.97,393.63 L664.02,393.89 L665.07,394.14 L666.13,394.39 L667.18,394.65 L668.24,394.89 L669.29,395.14 L670.35,395.39 L671.40,395.63 L672.46,395.88 L673.51,396.12 L674.57,396.36 L675.63,396.59 L676.68,396.83 L677.74,397.06 L678.80,397.30 L679.85,397.53 L680.91,397.76 L681.97,397.98 L683.02,398.21 L684.08,398.44 L685.14,398.66 L686.20,398.88 L687.26,399.10 L688.31,399.32 L689.37,399.53 L690.43,399.75 L691.49,399.96 L692.55,400.17 L693.61,400.38 L694.67,400.59 L695.72,400.80 L696.78,401.00 L697.84,401.21 L698.90,401.41 L699.96,401.61 L701.02,401.81 L702.08,402.00 L703.14,402.20 L704.20,402.39 L705.26,402.59 L706.32,402.78 L707.38,402.97 L708.44,403.15 L709.50,403.34 L710.55,403.52 L711.61,403.71 L712.67,403.89 L713.73,404.07 L714.79,404.24 L715.85,404.42 L716.91,404.60" stroke="#0808c8"/>
<path d="M115.92,226.42 L116.86,226.90 L117.79,227.38 L118.73,227.87 L119.66,228.36 L120.58,228.86 L121.51,229.36 L122.44,229.87 L123.36,230.38 L124.28,230.89 L125.20,231.41 L126.12,231.93 L127.04,232.45 L127.96,232.98 L128.87,233.51 L129.78,234.05 L130.70,234.58 L131.61,235.12 L132.52,235.66 L133.42,236.21 L134.33,236.76 L135.24,237.30 L136.15,237.86 L137.05,238.41 L137.95,238.97 L138.86,239.52 L139.76,240.08 L140.66,240.64 L141.56,241.21 L142.47,241.77 L143.37,242.33 L144.27,242.90 L145.17,243.47 L146.07,244.03 L146.97,244.60 L147.86,245.17 L148.76,245.74 L149.66,246.31 L150.56,246.88 L151.46,247.45 L152.36,248.02 L153.26,248.59 L154.16,249.16 L155.06,249.73 L155.96,250.30 L156.86,250.87 L157.76,251.43 L158.66,252.00 L159.56,252.56 L160.46,253.13 L161.37,253.69 L162.27,254.25 L163.17,254.81 L164.08,255.37 L164.99,255.93 L165.89,256.48 L166.80,257.04 L167.71,257.59 L168.62,258.14 L169.53,258.68 L170.44,259.23 L171.36,259.77 L172.27,260.30 L173.19,260.84 L174.11,261.37 L175.02,261.90 L175.95,262.43 L176.87,262.95 L177.79,263.47 L178.72,263.98 L179.64,264.50 L180.57,265.00 L181.50,265.51 L182.44,266.01 L183.37,266.50 L184.31,267.00 L185.24,267.49 L186.18,267.97 L187.12,268.45 L188.07,268.93 L189.01,269.40 L189.96,269.87 L190.91,270.34 L191.86,270.80 L192.81,271.26 L193.76,271.72 L194.71,272.17 L195.67,272.62 L196.63,273.07 L197.59,273.51 L198.55,273.95 L199.51,274.38 L200.47,274.81 L201.44,275.24 L202.40,275.67 L203.37,276.09 L204.34,276.51 L205.31,276.92 L206.28,277.33 L207.25,277.74 L208.23,278.15 L209.20,278.55 L210.18,278.95 L211.16,279.35 L212.14,279.74 L213.12,280.13 L214.10,280.52 L215.08,280.91 L216.07,281.29 L217.05,281.67 L218.04,282.04 L219.03,282.41 L220.02,282.79 L221.01,283.15 L222.00,283.52 L222.99,283.88 L223.98,284.24 L224.98,284.60 L225.97,284.95 L226.97,285.30 L227.97,285.65 L228.97,286.00 L229.96,286.34 L230.96,286.68 L231.97,287.02 L232.97,287.35 L233.97,287.69 L234.97,288.02 L235.98,288.35 L236.98,288.68 L237.99,289.00 L239.00,289.32 L240.01,289.64 L241.01,289.96 L242.02,290.27 L243.03,290.59 L244.04,290.90 L245.06,291.21 L246.07,291.51 L247.08,291.82 L248.09,292.12 L249.11,292.42 L250.12,292.72 L251.14,293.01 L252.15,293.31 L253.17,293.60 L254.19,293.89 L255.20,294.18 L256.22,294.47 L257.24,294.75 L258.26,295.04 L259.28,295.32 L260.30,295.60 L261.32,295.88 L262.34,296.15 L263.36,296.43 L264.38,296.71 L265.40,296.98 L266.42,297.25 L267.44,297.53 L268.47,297.80 L269.49,298.07 L270.51,298.34 L271.53,298.61 L272.55,298.89 L273.57,299.16 L274.60,299.43 L275.62,299.70 L276.64,299.98 L277.66,300.25 L278.68,300.52 L279.70,300.80 L280.72,301.08 L281.74,301.35 L282.76,301.63 L283.78,301.91 L284.80,302.19 L285.81,302.47 L286.83,302.76 L287.85,303.05 L288.86,303.33 L289.88,303.62 L290.89,303.92 L291.91,304.21 L292.92,304.51 L293.93,304.81 L294.95,305.11 L295.96,305.42 L296.97,305.73 L297.98,306.04 L298.99,306.35 L299.99,306.67 L301.00,306.99 L302.00,307.32 L303.01,307.65 L304.01,307.98 L305.01,308.32 L306.01,308.66 L307.01,309.00 L308.01,309.35 L309.01,309.70 L310.01,310.05 L311.00,310.41 L312.00,310.77 L312.99,311.13 L313.99,311.49 L314.98,311.86 L315.97,312.22 L316.96,312.59 L317.95,312.97 L318.94,313.34 L319.93,313.72 L320.92,314.09 L321.91,314.47 L322.90,314.85 L323.89,315.24 L324.88,315.62 L325.87,316.00 L326.86,316.39 L327.84,316.77 L328.83,317.16 L329.82,317.54 L330.81,317.93 L331.79,318.32 L332.78,318.70 L333.77,319.09 L334.76,319.48 L335.74,319.86 L336.73,320.25 L337.72,320.63 L338.71,321.02 L339.70,321.40 L340.68,321.78 L341.67,322.17 L342.66,322.55 L343.65,322.93 L344.64,323.31 L345.63,323.69 L346.62,324.08 L347.61,324.45 L348.60,324.83 L349.59,325.21 L350.58,325.59 L351.57,325.97 L352.57,326.34 L353.56,326.72 L354.55,327.09 L355.54,327.47 L356.54,327.84 L357.53,328.21 L358.52,328.58 L359.51,328.95 L360.51,329.32 L361.50,329.69 L362.50,330.06 L363.49,330.43 L364.49,330.79 L365.48,331.16 L366.48,331.52 L367.47,331.88 L368.47,332.25 L369.47,332.61 L370.46,332.97 L371.46,333.33 L372.46,333.68 L373.46,334.04 L374.46,334.40 L375.45,334.75 L376.45,335.10 L377.45,335.46 L378.45,335.81 L379.45,336.16 L380.45,336.51 L381.46,336.85 L382.46,337.20 L383.46,337.54 L384.46,337.89 L385.47,338.23 L386.47,338.57 L387.47,338.91 L388.48,339.25 L389.48,339.58 L390.49,339.92 L391.49,340.25 L392.50,340.59 L393.51,340.92 L394.51,341.25 L395.52,341.57 L396.53,341.90 L397.54,342.23 L398.55,342.55 L399.56,342.87 L400.57,343.19 L401.58,343.51 L402.59,343.83 L403.60,344.14 L404.61,344.46 L405.62,344.77 L406.64,345.08 L407.65,345.39 L408.66,345.70 L409.68,346.00 L410.69,346.31 L411.71,346.61 L412.72,346.92 L413.74,347.22 L414.76,347.52 L415.77,347.82 L416.79,348.12 L417.81,348.42 L418.82,348.71 L419.84,349.01 L420.86,349.31 L421.88,349.60 L422.90,349.89 L423.91,350.19 L424.93,350.48 L425.95,350.77 L426.97,351.06 L427.99,351.36 L429.01,351.65 L430.03,351.94 L431.05,352.23 L432.07,352.52 L433.09,352.81 L434.11,353.10 L435.13,353.38 L436.15,353.67 L437.17,353.96 L438.19,354.25 L439.21,354.54 L440.23,354.83 L441.24,355.12 L442.26,355.41 L443.28,355.70 L444.30,355.99 L445.32,356.28 L446.34,356.57 L447.36,356.86 L448.38,357.15 L449.40,357.45 L450.41,357.74 L451.43,358.03 L452.45,358.33 L453.47,358.62 L454.48,358.92 L455.50,359.21 L456.52,359.51 L457.53,359.81 L458.55,360.11 L459.57,360.41 L460.58,360.71 L461.60,361.01 L462.61,361.32 L463.62,361.62 L464.64,361.93 L465.65,362.23 L466.66,362.54 L467.67,362.85 L468.69,363.16 L469.70,363.48 L470.71,363.79 L471.72,364.11 L472.73,364.42 L473.74,364.74 L474.74,365.07 L475.75,365.39 L476.76,365.71 L477.77,366.04 L478.77,366.37 L479.78,366.70 L480.78,367.03 L481.79,367.36 L482.79,367.69 L483.79,368.03 L484.80,368.37 L485.80,368.70 L486.80,369.04 L487.80,369.38 L488.80,369.72 L489.81,370.06 L490.81,370.40 L491.81,370.73 L492.81,371.07 L493.81,371.41 L494.81,371.75 L495.82,372.09 L496.82,372.42 L497.82,372.76 L498.82,373.09 L499.83,373.43 L500.83,373.76 L501.83,374.09 L502.84,374.42 L503.84,374.75 L504.85,375.07 L505.85,375.40 L506.86,375.72 L507.86,376.04 L508.87,376.35 L509.88,376.67 L510.89,376.98 L511.90,377.29 L512.91,377.60 L513.92,377.91 L514.93,378.22 L515.94,378.52 L516.95,378.82 L517.96,379.12 L518.97,379.42 L519.99,379.71 L521.00,380.01 L522.02,380.30 L523.03,380.59 L524.05,380.88 L525.06,381.17 L526.08,381.45 L527.10,381.74 L528.11,382.02 L529.13,382.30 L530.15,382.57 L531.17,382.85 L532.19,383.13 L533.21,383.40 L534.23,383.67 L535.25,383.94 L536.27,384.21 L537.30,384.47 L538.32,384.74 L539.34,385.00 L540.37,385.26 L541.39,385.52 L542.42,385.78 L543.44,386.04 L544.47,386.30 L545.49,386.55 L546.52,386.80 L547.55,387.05 L548.57,387.30 L549.60,387.55 L550.63,387.80 L551.66,388.04 L552.69,388.28 L553.72,388.53 L554.75,388.77 L555.78,389.01 L556.81,389.24 L557.84,389.48 L558.87,389.71 L559.91,389.95 L560.94,390.18 L561.97,390.41 L563.01,390.64 L564.04,390.87 L565.07,391.09 L566.11,391.32 L567.14,391.54 L568.18,391.76 L569.21,391.99 L570.25,392.20 L571.29,392.42 L572.32,392.64 L573.36,392.86 L574.40,393.07 L575.44,393.28 L576.48,393.50 L577.51,393.71 L578.55,393.92 L579.59,394.13 L580.63,394.33 L581.67,394.54 L582.71,394.74 L583.75,394.95 L584.79,395.15 L585.83,395.35 L586.88,395.55 L587.92,395.75 L588.96,395.95 L590.00,396.14 L591.04,396.34 L592.09,396.53 L593.13,396.73 L594.17,396.92 L595.22,397.11 L596.26,397.30 L597.30,397.49 L598.35,397.68 L599.39,397.87 L600.44,398.05 L601.48,398.24 L602.53,398.42 L603.57,398.60 L604.62,398.79 L605.67,398.97 L606.71,399.15 L607.76,399.33 L608.80,399.51 L609.85,399.68 L610.90,399.86 L611.95,400.03 L612.99,400.21 L614.04,400.38 L615.09,400.56 L616.14,400.73 L617.18,400.90 L618.23,401.07 L619.28,401.24 L620.33,401.41 L621.38,401.57 L622.43,401.74 L623.48,401.91 L624.52,402.07 L625.57,402.24 L626.62,402.40 L627.67,402.56 L628.72,402.72 L629.77,402.89 L630.82,403.05 L631.87,403.21 L632.92,403.37 L633.97,403.52 L635.02,403.68 L636.07,403.84 L637.12,403.99 L638.17,404.15 L639.22,404.31 L640.27,404.46 L641.33,404.61 L642.38,404.77 L643.43,404.92 L644.48,405.07 L645.53,405.22 L646.58,405.37 L647.63,405.52 L648.68,405.67 L649.73,405.82 L650.78,405.97 L651.84,406.12 L652.89,406.26 L653.94,406.41 L654.99,406.56 L656.04,406.70 L657.09,406.85 L658.14,406.99 L659.19,407.14 L660.25,407.28 L661.30,407.43 L662.35,407.57 L663.40,407.71 L664.45,407.85 L665.50,407.99 L666.55,408.14 L667.60,408.28 L668.66,408.42 L669.71,408.56 L670.76,408.70 L671.81,408.84 L672.86,408.98 L673.91,409.11 L674.96,409.25 L676.01,409.39 L677.06,409.53 L678.11,409.67 L679.16,409.80 L680.21,409.94 L681.26,410.08 L682.31,410.21 L683.36,410.35 L684.41,410.48 L685.46,410.62 L686.51,410.76 L687.56,410.89 L688.61,411.03 L689.66,411.16 L690.71,411.29 L691.76,411.43 L692.81,411.56 L693.86,411.70 L694.90,411.83 L695.95,411.97 L697.00,412.10 L698.05,412.23 L699.10,412.37 L700.15,412.50 L701.19,412.63 L702.24,412.77 L703.29,412.90 L704.33,413.03 L705.38,413.17 L706.43,413.30 L707.47,413.43 L708.52,413.56 L709.57,413.70 L710.61,413.83 L711.66,413.96 L712.70,414.10 L713.75,414.23 L714.79,414.36 L715.84,414.50 L716.88,414.63" stroke="#dc18dc"/>
<path d="M116.06,178.49 L117.20,178.43 L118.35,178.38 L119.49,178.34 L120.64,178.30 L121.77,178.27 L122.91,178.25 L124.05,178.24 L125.18,178.24 L126.31,178.25 L127.43,178.26 L128.56,178.29 L129.68,178.32 L130.80,178.36 L131.92,178.40 L133.03,178.46 L134.15,178.52 L135.26,178.59 L136.37,178.67 L137.47,178.75 L138.57,178.85 L139.68,178.95 L140.77,179.06 L141.87,179.17 L142.97,179.29 L144.06,179.43 L145.15,179.56 L146.24,179.71 L147.32,179.86 L148.41,180.02 L149.49,180.19 L150.57,180.36 L151.64,180.54 L152.72,180.73 L153.79,180.92 L154.86,181.12 L155.93,181.33 L156.99,181.55 L158.06,181.77 L159.12,182.00 L160.18,182.23 L161.23,182.47 L162.29,182.72 L163.34,182.97 L164.39,183.23 L165.44,183.50 L166.49,183.77 L167.53,184.05 L168.58,184.33 L169.62,184.62 L170.65,184.92 L171.69,185.22 L172.73,185.53 L173.76,185.85 L174.79,186.17 L175.82,186.49 L176.84,186.82 L177.87,187.16 L178.89,187.50 L179.91,187.85 L180.93,188.20 L181.94,188.56 L182.96,188.93 L183.97,189.30 L184.98,189.67 L185.99,190.05 L187.00,190.43 L188.00,190.82 L189.00,191.22 L190.01,191.62 L191.00,192.02 L192.00,192.43 L193.00,192.85 L193.99,193.26 L194.98,193.69 L195.97,194.12 L196.96,194.55 L197.95,194.98 L198.93,195.43 L199.91,195.87 L200.89,196.32 L201.87,196.78 L202.85,197.23 L203.82,197.70 L204.80,198.16 L205.77,198.63 L206.74,199.11 L207.71,199.59 L208.67,200.07 L209.64,200.56 L210.60,201.05 L211.56,201.54 L212.52,202.04 L213.48,202.54 L214.44,203.04 L215.39,203.55 L216.35,204.06 L217.30,204.58 L218.25,205.10 L219.20,205.62 L220.15,206.14 L221.09,206.67 L222.04,207.20 L222.98,207.74 L223.92,208.27 L224.86,208.81 L225.80,209.36 L226.74,209.90 L227.68,210.45 L228.61,211.00 L229.55,211.56 L230.48,212.12 L231.41,212.68 L232.34,213.24 L233.27,213.80 L234.20,214.37 L235.13,214.94 L236.05,215.51 L236.98,216.09 L237.90,216.66 L238.83,217.24 L239.75,217.82 L240.67,218.41 L241.59,218.99 L242.51,219.58 L243.43,220.17 L244.35,220.76 L245.26,221.35 L246.18,221.95 L247.09,222.54 L248.01,223.14 L248.92,223.74 L249.83,224.34 L250.74,224.95 L251.66,225.55 L252.57,226.16 L253.48,226.76 L254.38,227.37 L255.29,227.98 L256.20,228.59 L257.11,229.21 L258.01,229.82 L258.92,230.43 L259.83,231.05 L260.73,231.66 L261.64,232.28 L262.54,232.90 L263.44,233.52 L264.35,234.14 L265.25,234.76 L266.15,235.38 L267.05,236.00 L267.95,236.62 L268.86,237.25 L269.76,237.87 L270.66,238.49 L271.56,239.12 L272.46,239.74 L273.36,240.36 L274.26,240.99 L275.16,241.61 L276.06,242.24 L276.96,242.86 L277.86,243.49 L278.76,244.11 L279.65,244.73 L280.55,245.36 L281.45,245.98 L282.35,246.61 L283.25,247.23 L284.15,247.85 L285.05,248.48 L285.95,249.10 L286.85,249.72 L287.75,250.34 L288.65,250.96 L289.55,251.58 L290.44,252.20 L291.34,252.82 L292.24,253.44 L293.14,254.06 L294.04,254.68 L294.94,255.30 L295.84,255.92 L296.74,256.54 L297.65,257.15 L298.55,257.77 L299.45,258.39 L300.35,259.00 L301.25,259.62 L302.15,260.23 L303.05,260.84 L303.96,261.46 L304.86,262.07 L305.76,262.68 L306.66,263.29 L307.57,263.90 L308.47,264.51 L309.38,265.12 L310.28,265.73 L311.18,266.34 L312.09,266.94 L312.99,267.55 L313.90,268.15 L314.81,268.76 L315.71,269.36 L316.62,269.97 L317.53,270.57 L318.44,271.17 L319.34,271.77 L320.25,272.37 L321.16,272.97 L322.07,273.56 L322.98,274.16 L323.89,274.76 L324.80,275.35 L325.72,275.95 L326.63,276.54 L327.54,277.13 L328.46,277.72 L329.37,278.31 L330.28,278.90 L331.20,279.49 L332.12,280.08 L333.03,280.66 L333.95,281.25 L334.87,281.83 L335.79,282.41 L336.70,282.99 L337.62,283.57 L338.55,284.15 L339.47,284.73 L340.39,285.31 L341.31,285.88 L342.23,286.46 L343.16,287.03 L344.08,287.60 L345.01,288.17 L345.94,288.74 L346.86,289.31 L347.79,289.88 L348.72,290.44 L349.65,291.01 L350.58,291.57 L351.51,292.13 L352.44,292.69 L353.38,293.25 L354.31,293.81 L355.24,294.36 L356.18,294.92 L357.12,295.47 L358.05,296.02 L358.99,296.57 L359.93,297.12 L360.87,297.67 L361.81,298.21 L362.75,298.76 L363.70,299.30 L364.64,299.84 L365.58,300.39 L366.53,300.92 L367.47,301.46 L368.42,302.00 L369.37,302.53 L370.32,303.07 L371.26,303.60 L372.21,304.13 L373.16,304.66 L374.12,305.19 L375.07,305.72 L376.02,306.25 L376.97,306.77 L377.93,307.29 L378.88,307.82 L379.84,308.34 L380.80,308.86 L381.75,309.38 L382.71,309.89 L383.67,310.41 L384.63,310.92 L385.59,311.44 L386.55,311.95 L387.51,312.46 L388.47,312.97 L389.44,313.48 L390.40,313.98 L391.37,314.49 L392.33,314.99 L393.30,315.50 L394.26,316.00 L395.23,316.50 L396.20,317.00 L397.17,317.50 L398.14,317.99 L399.11,318.49 L400.08,318.98 L401.05,319.48 L402.02,319.97 L402.99,320.46 L403.97,320.95 L404.94,321.44 L405.91,321.93 L406.89,322.41 L407.86,322.90 L408.84,323.38 L409.82,323.86 L410.80,324.34 L411.77,324.82 L412.75,325.30 L413.73,325.78 L414.71,326.26 L415.69,326.73 L416.67,327.21 L417.65,327.68 L418.64,328.15 L419.62,328.62 L420.60,329.09 L421.59,329.56 L422.57,330.03 L423.56,330.50 L424.54,330.96 L425.53,331.43 L426.52,331.89 L427.50,332.35 L428.49,332.81 L429.48,333.27 L430.47,333.73 L431.46,334.19 L432.45,334.64 L433.44,335.10 L434.43,335.55 L435.42,336.00 L436.41,336.45 L437.41,336.90 L438.40,337.35 L439.40,337.80 L440.39,338.25 L441.38,338.69 L442.38,339.13 L443.38,339.58 L444.37,340.02 L445.37,340.46 L446.37,340.90 L447.37,341.33 L448.37,341.77 L449.37,342.21 L450.37,342.64 L451.37,343.07 L452.37,343.50 L453.37,343.93 L454.37,344.36 L455.37,344.79 L456.38,345.22 L457.38,345.64 L458.38,346.06 L459.39,346.49 L460.40,346.91 L461.40,347.33 L462.41,347.74 L463.41,348.16 L464.42,348.58 L465.43,348.99 L466.44,349.40 L467.45,349.82 L468.46,350.23 L469.47,350.63 L470.48,351.04 L471.49,351.45 L472.50,351.85 L473.52,352.25 L474.53,352.66 L475.54,353.06 L476.56,353.46 L477.57,353.85 L478.59,354.25 L479.60,354.64 L480.62,355.04 L481.63,355.43 L482.65,355.82 L483.67,356.21 L484.69,356.60 L485.71,356.98 L486.73,357.37 L487.75,357.75 L488.77,358.13 L489.79,358.51 L490.81,358.89 L491.83,359.27 L492.85,359.64 L493.88,360.02 L494.90,360.39 L495.92,360.76 L496.95,361.13 L497.97,361.50 L499.00,361.86 L500.03,362.23 L501.05,362.59 L502.08,362.96 L503.11,363.32 L504.14,363.67 L505.16,364.03 L506.19,364.39 L507.22,364.74 L508.25,365.09 L509.29,365.45 L510.32,365.80 L511.35,366.14 L512.38,366.49 L513.41,366.83 L514.45,367.18 L515.48,367.52 L516.52,367.86 L517.55,368.20 L518.59,368.53 L519.62,368.87 L520.66,369.20 L521.70,369.53 L522.74,369.86 L523.77,370.19 L524.81,370.52 L525.85,370.84 L526.89,371.17 L527.93,371.49 L528.97,371.81 L530.01,372.13 L531.06,372.44 L532.10,372.76 L533.14,373.07 L534.18,373.38 L535.23,373.69 L536.27,374.00 L537.32,374.31 L538.36,374.61 L539.41,374.92 L540.46,375.22 L541.50,375.52 L542.55,375.82 L543.60,376.11 L544.65,376.41 L545.70,376.70 L546.75,376.99 L547.80,377.28 L548.85,377.57 L549.90,377.85 L550.95,378.14 L552.00,378.42 L553.05,378.70 L554.11,378.98 L555.16,379.26 L556.21,379.53 L557.27,379.81 L558.32,380.08 L559.38,380.35 L560.43,380.62 L561.49,380.89 L562.55,381.16 L563.60,381.42 L564.66,381.68 L565.72,381.95 L566.78,382.21 L567.84,382.46 L568.89,382.72 L569.95,382.98 L571.01,383.23 L572.07,383.49 L573.13,383.74 L574.20,383.99 L575.26,384.24 L576.32,384.48 L577.38,384.73 L578.44,384.98 L579.51,385.22 L580.57,385.46 L581.63,385.70 L582.70,385.94 L583.76,386.18 L584.83,386.42 L585.89,386.65 L586.96,386.89 L588.02,387.12 L589.09,387.35 L590.15,387.58 L591.22,387.81 L592.29,388.04 L593.35,388.26 L594.42,388.49 L595.49,388.71 L596.56,388.94 L597.62,389.16 L598.69,389.38 L599.76,389.60 L600.83,389.82 L601.90,390.04 L602.97,390.25 L604.04,390.47 L605.11,390.68 L606.18,390.90 L607.25,391.11 L608.32,391.32 L609.39,391.53 L610.46,391.74 L611.53,391.95 L612.61,392.16 L613.68,392.36 L614.75,392.57 L615.82,392.77 L616.90,392.98 L617.97,393.18 L619.04,393.38 L620.11,393.58 L621.19,393.78 L622.26,393.98 L623.33,394.18 L624.41,394.38 L625.48,394.57 L626.56,394.77 L627.63,394.96 L628.70,395.16 L629.78,395.35 L630.85,395.54 L631.93,395.73 L633.00,395.92 L634.08,396.11 L635.15,396.30 L636.23,396.49 L637.31,396.68 L638.38,396.87 L639.46,397.05 L640.53,397.24 L641.61,397.42 L642.68,397.61 L643.76,397.79 L644.84,397.98 L645.91,398.16 L646.99,398.34 L648.07,398.52 L649.14,398.70 L650.22,398.88 L651.29,399.06 L652.37,399.24 L653.45,399.42 L654.52,399.60 L655.60,399.78 L656.68,399.95 L657.75,400.13 L658.83,400.31 L659.91,400.48 L660.99,400.66 L662.06,400.83 L663.14,401.01 L664.22,401.18 L665.29,401.35 L666.37,401.53 L667.45,401.70 L668.52,401.87 L669.60,402.04 L670.68,402.22 L671.75,402.39 L672.83,402.56 L673.91,402.73 L674.98,402.90 L676.06,403.07 L677.14,403.24 L678.21,403.41 L679.29,403.58 L680.37,403.75 L681.44,403.92 L682.52,404.08 L683.59,404.25 L684.67,404.42 L685.75,404.59 L686.82,404.76 L687.90,404.92 L688.97,405.09 L690.05,405.26 L691.12,405.43 L692.20,405.59 L693.27,405.76 L694.35,405.93 L695.42,406.10 L696.50,406.26 L697.57,406.43 L698.65,406.60 L699.72,406.76 L700.80,406.93 L701.87,407.10 L702.94,407.26 L704.02,407.43 L705.09,407.60 L706.16,407.76 L707.24,407.93 L708.31,408.10 L709.38,408.27 L710.46,408.43 L711.53,408.60 L712.60,408.77 L713.67,408.94 L714.74,409.10 L715.82,409.27 L716.89,409.44" stroke="#167016"/>
</g>
<rect x="115.4" y="6.9" width="602.8" height="443.1" fill="none" stroke="#000" stroke-width="3.4"/>
<g stroke="#000" stroke-width="3" stroke-linecap="round">
<line x1="175.70" y1="449" x2="175.70" y2="447.4"/>
<line x1="236.00" y1="449" x2="236.00" y2="444.7"/>
<line x1="296.30" y1="449" x2="296.30" y2="447.4"/>
<line x1="356.60" y1="449" x2="356.60" y2="444.7"/>
<line x1="416.90" y1="449" x2="416.90" y2="447.4"/>
<line x1="477.20" y1="449" x2="477.20" y2="444.7"/>
<line x1="537.50" y1="449" x2="537.50" y2="447.4"/>
<line x1="597.80" y1="449" x2="597.80" y2="444.7"/>
<line x1="658.10" y1="449" x2="658.10" y2="447.4"/>
<line x1="116.4" y1="402.38" x2="118.0" y2="402.38"/>
<line x1="116.4" y1="350.77" x2="120.60000000000001" y2="350.77"/>
<line x1="116.4" y1="299.15" x2="118.0" y2="299.15"/>
<line x1="116.4" y1="247.54" x2="120.60000000000001" y2="247.54"/>
<line x1="116.4" y1="195.92" x2="118.0" y2="195.92"/>
<line x1="116.4" y1="144.31" x2="120.60000000000001" y2="144.31"/>
<line x1="116.4" y1="92.69" x2="118.0" y2="92.69"/>
<line x1="116.4" y1="41.08" x2="120.60000000000001" y2="41.08"/>
</g>
<text x="115.40" y="485" class="tk" text-anchor="middle">300</text>
<text x="236.00" y="485" class="tk" text-anchor="middle">400</text>
<text x="356.60" y="485" class="tk" text-anchor="middle">500</text>
<text x="477.20" y="485" class="tk" text-anchor="middle">600</text>
<text x="597.80" y="485" class="tk" text-anchor="middle">700</text>
<text x="718.40" y="485" class="tk" text-anchor="middle">800</text>
<text x="109" y="50.98" class="tk" text-anchor="end">1.2</text>
<text x="109" y="154.21" class="tk" text-anchor="end">0.9</text>
<text x="109" y="257.44" class="tk" text-anchor="end">0.6</text>
<text x="109" y="360.67" class="tk" text-anchor="end">0.3</text>
<text x="489" y="68" class="ttl">Initial Au:Pd</text>
<line x1="556" y1="103.2" x2="604.5" y2="103.2" stroke="#000000" stroke-width="4.3" stroke-linecap="round"/>
<text x="623" y="110.5" class="lg">1:0</text>
<line x1="560.8" y1="147.2" x2="609.1" y2="147.2" stroke="#d41010" stroke-width="4.3" stroke-linecap="round"/>
<text x="627" y="154.5" class="lg">3:1</text>
<line x1="560.8" y1="191.3" x2="609.1" y2="191.3" stroke="#0808c8" stroke-width="4.3" stroke-linecap="round"/>
<text x="627" y="198.3" class="lg">1:1</text>
<line x1="560.8" y1="235.3" x2="609.1" y2="235.3" stroke="#dc18dc" stroke-width="4.3" stroke-linecap="round"/>
<text x="627" y="242.3" class="lg">1:3</text>
<line x1="560.8" y1="279.6" x2="609.1" y2="279.6" stroke="#167016" stroke-width="4.3" stroke-linecap="round"/>
<text x="627" y="286.3" class="lg">0:1</text>
<text x="240" y="534.8" class="ax">Wavelength (nm)</text>
<text transform="translate(36.5,366) rotate(-90)" class="ax">Absorbance</text>
</svg>
</body></html>
